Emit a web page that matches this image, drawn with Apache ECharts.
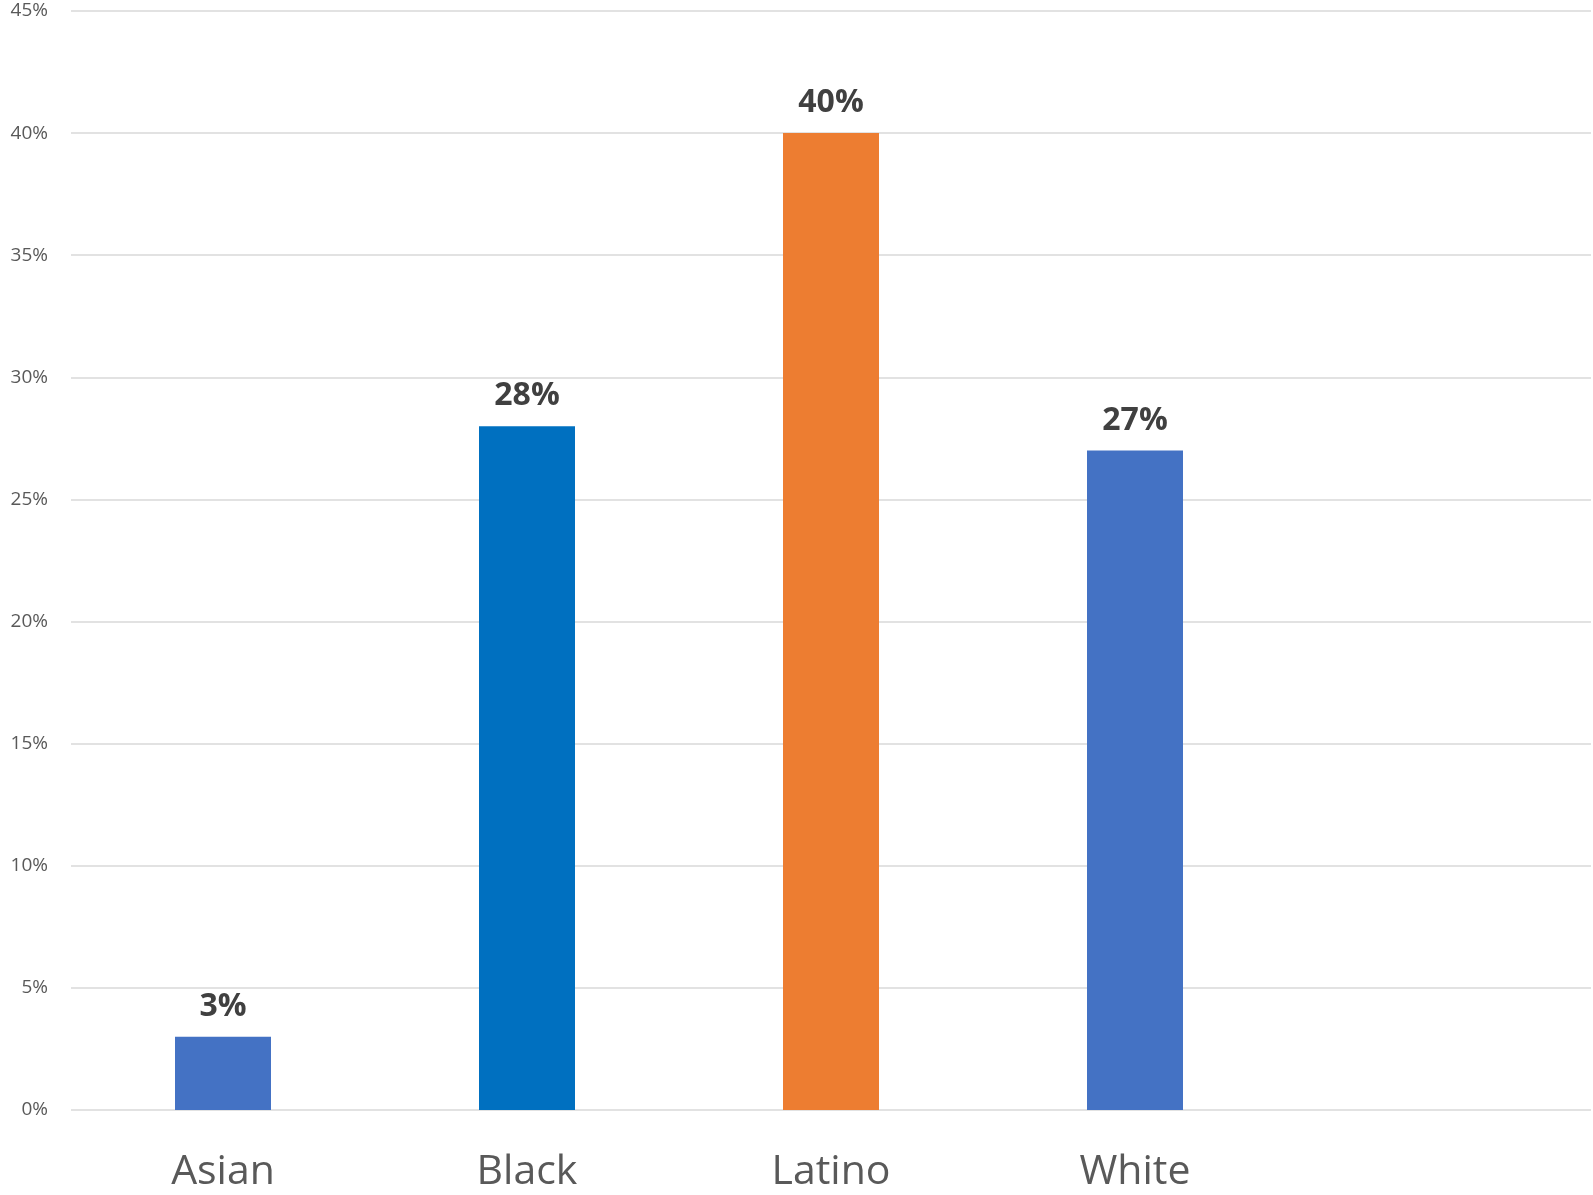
<!DOCTYPE html>
<html>
<head>
<meta charset="utf-8">
<script src="https://cdn.jsdelivr.net/npm/echarts@6/dist/echarts.min.js"></script>
<style>html,body{margin:0;padding:0;background:#fff;}#c{width:1593px;height:1195px;}</style>
</head>
<body>
<div id="c"></div>
<script>
var categories = ['Asian', 'Black', 'Latino', 'White', ''];
var values = [3, 28, 40, 27, null];
var barColors = ['#4472C4', '#0070C0', '#ED7D31', '#4472C4', '#4472C4'];
var yTicks = [0, 5, 10, 15, 20, 25, 30, 35, 40, 45];

var chart = echarts.init(document.getElementById('c'));
chart.setOption({
  animation: false,
  backgroundColor: '#fff',
  grid: { left: 71, right: 2, top: 11, bottom: 85, containLabel: false },
  xAxis: {
    type: 'category',
    data: categories,
    axisLine: { show: false },
    axisTick: { show: false },
    axisLabel: { color: '#595959', fontSize: 41, fontFamily: 'Open Sans', margin: 42 }
  },
  yAxis: {
    type: 'value',
    min: yTicks[0],
    max: yTicks[yTicks.length - 1],
    interval: 5,
    axisLine: { show: false },
    axisTick: { show: false },
    splitLine: { lineStyle: { color: '#d9d9d9', width: 1.5 } },
    axisLabel: { color: '#595959', fontSize: 19, fontFamily: 'Open Sans', margin: 23, formatter: '{value}%' }
  },
  series: [{
    type: 'bar',
    barWidth: 96,
    data: values.map(function (v, i) { return { value: v, itemStyle: { color: barColors[i] } }; }),
    label: {
      show: true,
      position: 'top',
      distance: 14,
      color: '#404040',
      fontSize: 32,
      fontWeight: 'bold',
      fontFamily: 'Open Sans',
      formatter: function (p) { return p.value == null ? '' : p.value + '%'; }
    }
  }]
});
</script>
</body>
</html>
